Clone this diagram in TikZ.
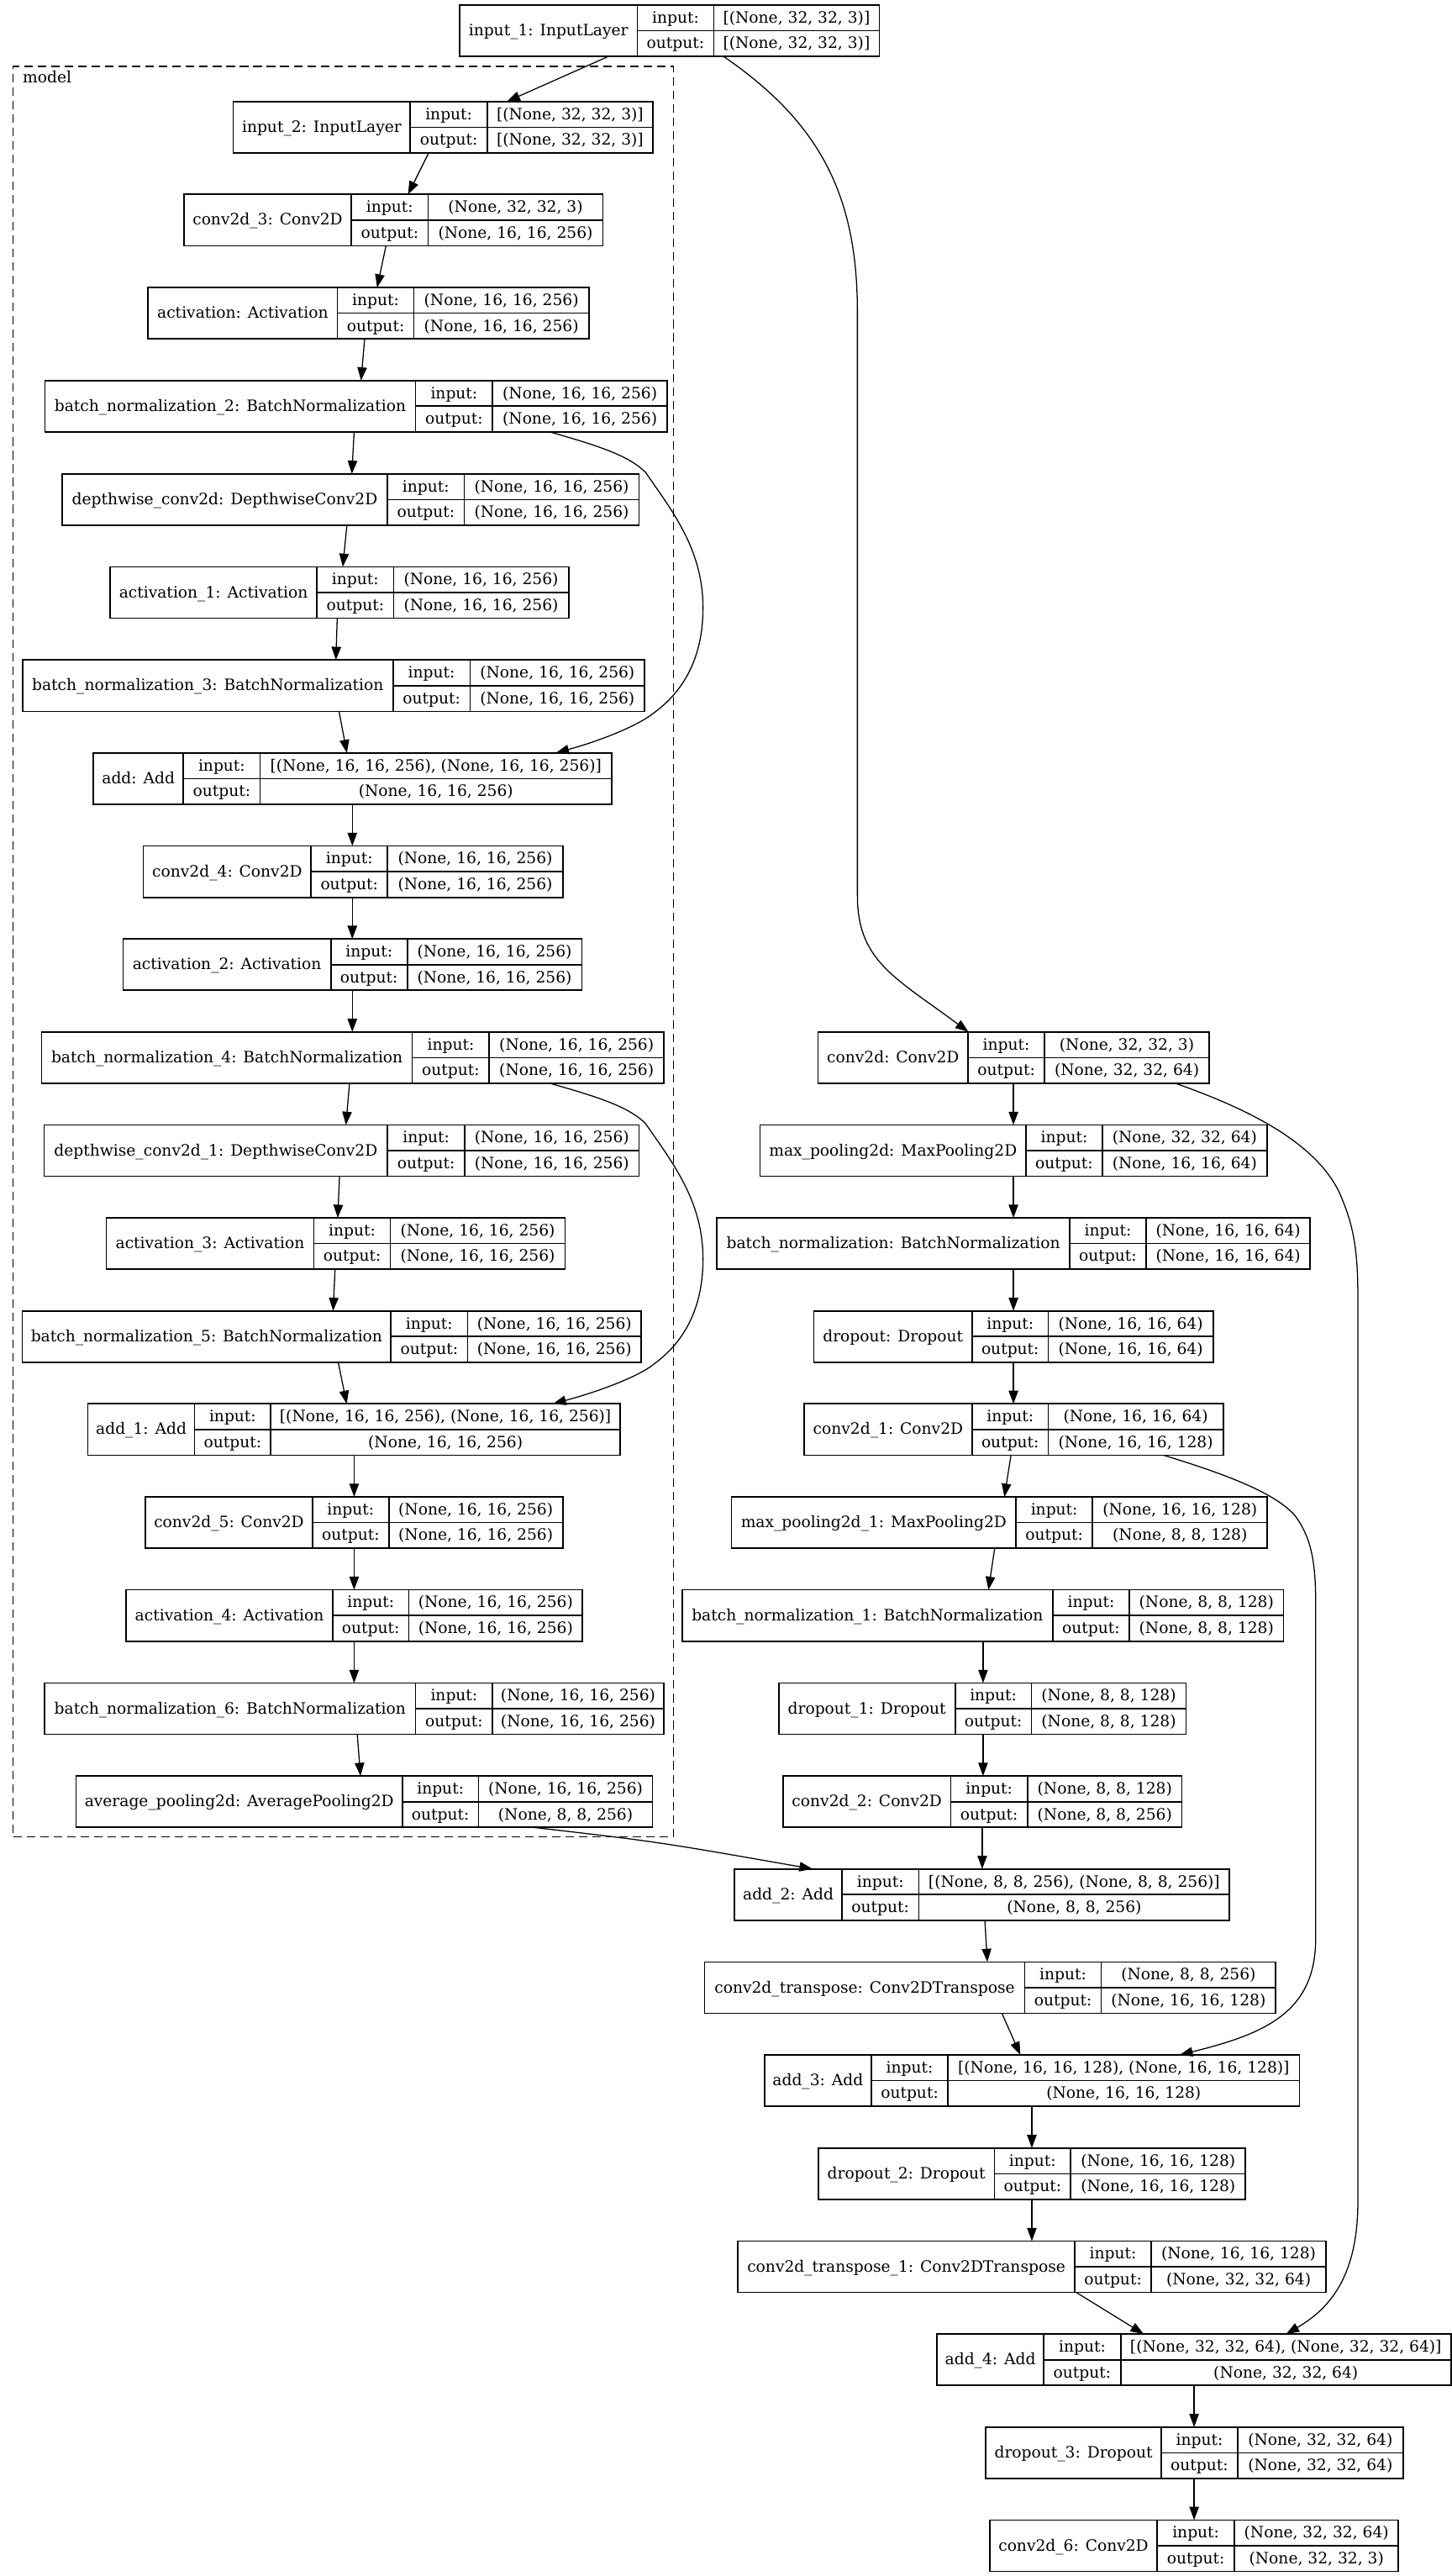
\documentclass[tikz,border=0pt]{standalone}
\usepackage{fontspec}
\newfontfamily\dv{DejaVu Serif}
\usetikzlibrary{fit,arrows.meta}
\def\bh{31.3}
\def\bo{3.1}
\tikzset{
  box/.style={draw=black, line width=0.85pt, inner sep=0pt, outer sep=0pt},
  boxline/.style={draw=black, line width=0.85pt},
  txt/.style={anchor=base, inner sep=0pt, font=\dv\fontsize{9.55}{11}\selectfont},
  conn/.style={draw=black, line width=0.65pt, -{Triangle[length=8pt,width=5.8pt]}},
  clusterbox/.style={draw=black, line width=0.8pt, dash pattern=on 5.2pt off 3pt},
}
\newcommand\layer[9]{%
  \node[box, fit={(#3,#2) (#6,{#2+\bh})}] (#1) {};
  \draw[boxline] (#4,#2) -- (#4,{#2+\bh}) (#5,#2) -- (#5,{#2+\bh}) (#4,{#2+\bh/2}) -- (#6,{#2+\bh/2});
  \node[txt] (#1-l) at ({(#3+#4)/2},{#2+\bh/2+\bo}) {#7};
  \node[txt] (#1-pi) at ({(#4+#5)/2},{#2+\bh/4+\bo}) {input:};
  \node[txt] (#1-po) at ({(#4+#5)/2},{#2+3*\bh/4+\bo}) {output:};
  \node[txt] (#1-vi) at ({(#5+#6)/2},{#2+\bh/4+\bo}) {#8};
  \node[txt] (#1-vo) at ({(#5+#6)/2},{#2+3*\bh/4+\bo}) {#9};
}
\begin{document}
\begin{tikzpicture}[x=1pt,y=-1pt]
\useasboundingbox (0,0) rectangle (884,1568);
\fill[white] (0,0) rectangle (884,1568);
% cluster
\node[clusterbox, inner sep=0pt, outer sep=0pt, fit={(8,40.4) (410,1118)}] (model) {};
\node[txt, anchor=base west] (modellbl) at (13.7,50.5) {model};
% left column
\layer{in1}{3}{279.8}{388}{434.6}{535.3}{input\_1: InputLayer}{[(None, 32, 32, 3)]}{[(None, 32, 32, 3)]}
\layer{in2}{61.8}{142}{249.8}{296.7}{397.4}{input\_2: InputLayer}{[(None, 32, 32, 3)]}{[(None, 32, 32, 3)]}
\layer{c3}{118.3}{111.9}{214}{260.6}{367.1}{conv2d\_3: Conv2D}{(None, 32, 32, 3)}{(None, 16, 16, 256)}
\layer{act}{175}{90.2}{205.4}{252}{358.5}{activation: Activation}{(None, 16, 16, 256)}{(None, 16, 16, 256)}
\layer{bn2}{231.6}{27.3}{253}{299.9}{406.2}{batch\_normalization\_2: BatchNormalization}{(None, 16, 16, 256)}{(None, 16, 16, 256)}
\layer{dw}{288.4}{37.7}{236}{282.6}{389.1}{depthwise\_conv2d: DepthwiseConv2D}{(None, 16, 16, 256)}{(None, 16, 16, 256)}
\layer{act1}{345}{67}{193}{239.6}{346.2}{activation\_1: Activation}{(None, 16, 16, 256)}{(None, 16, 16, 256)}
\layer{bn3}{401.7}{13.7}{239.3}{286.2}{392.5}{batch\_normalization\_3: BatchNormalization}{(None, 16, 16, 256)}{(None, 16, 16, 256)}
\layer{add}{458.3}{56.9}{111.6}{158.4}{372.4}{add: Add}{[(None, 16, 16, 256), (None, 16, 16, 256)]}{(None, 16, 16, 256)}
\layer{c4}{514.9}{87.3}{189.4}{236}{342.6}{conv2d\_4: Conv2D}{(None, 16, 16, 256)}{(None, 16, 16, 256)}
\layer{act2}{571.5}{75}{201.4}{248}{354.2}{activation\_2: Activation}{(None, 16, 16, 256)}{(None, 16, 16, 256)}
\layer{bn4}{628.1}{25.4}{251}{297.9}{404.2}{batch\_normalization\_4: BatchNormalization}{(None, 16, 16, 256)}{(None, 16, 16, 256)}
\layer{dw1}{684.7}{26.8}{236}{282.9}{389.1}{depthwise\_conv2d\_1: DepthwiseConv2D}{(None, 16, 16, 256)}{(None, 16, 16, 256)}
\layer{act3}{741.3}{64.7}{191.1}{237.7}{344}{activation\_3: Activation}{(None, 16, 16, 256)}{(None, 16, 16, 256)}
\layer{bn5}{797.9}{13.6}{238}{284.7}{390.4}{batch\_normalization\_5: BatchNormalization}{(None, 16, 16, 256)}{(None, 16, 16, 256)}
\layer{add1}{854.5}{53.5}{118.5}{164.8}{377.6}{add\_1: Add}{[(None, 16, 16, 256), (None, 16, 16, 256)]}{(None, 16, 16, 256)}
\layer{c5}{911.1}{88.5}{190.3}{236.7}{342.6}{conv2d\_5: Conv2D}{(None, 16, 16, 256)}{(None, 16, 16, 256)}
\layer{act4}{967.7}{76.9}{202.5}{248.9}{354.6}{activation\_4: Activation}{(None, 16, 16, 256)}{(None, 16, 16, 256)}
\layer{bn6}{1024.4}{27.2}{253}{299.9}{404}{batch\_normalization\_6: BatchNormalization}{(None, 16, 16, 256)}{(None, 16, 16, 256)}
\layer{avg}{1081}{46.3}{245}{291.3}{397.3}{average\_pooling2d: AveragePooling2D}{(None, 16, 16, 256)}{(None, 8, 8, 256)}
% right column
\layer{c0}{628.1}{498.1}{589.3}{636}{736.1}{conv2d: Conv2D}{(None, 32, 32, 3)}{(None, 32, 32, 64)}
\layer{mp}{684.7}{462.7}{624.7}{671.1}{771.4}{max\_pooling2d: MaxPooling2D}{(None, 32, 32, 64)}{(None, 16, 16, 64)}
\layer{bn}{741.3}{436.5}{651.2}{697.8}{797.7}{batch\_normalization: BatchNormalization}{(None, 16, 16, 64)}{(None, 16, 16, 64)}
\layer{dr}{797.9}{495.5}{591.9}{638.2}{738.6}{dropout: Dropout}{(None, 16, 16, 64)}{(None, 16, 16, 64)}
\layer{c1}{854.5}{489.5}{591.9}{638.2}{744.7}{conv2d\_1: Conv2D}{(None, 16, 16, 64)}{(None, 16, 16, 128)}
\layer{mp1}{911.1}{445.4}{618.5}{665.2}{771.6}{max\_pooling2d\_1: MaxPooling2D}{(None, 16, 16, 128)}{(None, 8, 8, 128)}
\layer{bn1}{967.7}{415.3}{641}{687.5}{781.5}{batch\_normalization\_1: BatchNormalization}{(None, 8, 8, 128)}{(None, 8, 8, 128)}
\layer{dr1}{1024.4}{474.1}{581.5}{628}{722.1}{dropout\_1: Dropout}{(None, 8, 8, 128)}{(None, 8, 8, 128)}
\layer{c2}{1081}{476.8}{578.8}{625.6}{719.6}{conv2d\_2: Conv2D}{(None, 8, 8, 128)}{(None, 8, 8, 256)}
\layer{add2}{1137.6}{447.2}{512.6}{559.4}{748.6}{add\_2: Add}{[(None, 8, 8, 256), (None, 8, 8, 256)]}{(None, 8, 8, 256)}
\layer{ct}{1194.2}{429}{623.9}{670.5}{776.6}{conv2d\_transpose: Conv2DTranspose}{(None, 8, 8, 256)}{(None, 16, 16, 128)}
\layer{add3}{1250.8}{465.4}{530.5}{577.1}{791.2}{add\_3: Add}{[(None, 16, 16, 128), (None, 16, 16, 128)]}{(None, 16, 16, 128)}
\layer{dr2}{1307.5}{498.3}{605.4}{651.9}{758.3}{dropout\_2: Dropout}{(None, 16, 16, 128)}{(None, 16, 16, 128)}
\layer{ct1}{1364.1}{449.3}{654.3}{700.9}{807.3}{conv2d\_transpose\_1: Conv2DTranspose}{(None, 16, 16, 128)}{(None, 32, 32, 64)}
\layer{add4}{1420.7}{570.4}{635.5}{682.3}{883.4}{add\_4: Add}{[(None, 32, 32, 64), (None, 32, 32, 64)]}{(None, 32, 32, 64)}
\layer{dr3}{1477.3}{600.2}{707}{753.5}{854.2}{dropout\_3: Dropout}{(None, 32, 32, 64)}{(None, 32, 32, 64)}
\layer{c6}{1533.9}{602.6}{704.5}{751.6}{851.4}{conv2d\_6: Conv2D}{(None, 32, 32, 64)}{(None, 32, 32, 3)}
% connectors, left
\draw[conn] (370.5,0 |- in1.south) -- (308.6,0 |- in2.north);
\draw[conn] (440.4,0 |- in1.south) .. controls (500,75) and (522,120) .. (522,190) -- (522,545) .. controls (522,585) and (545,595) .. (589.6,0 |- c0.north);
\draw[conn] (261,0 |- in2.south) -- (248.4,0 |- c3.north);
\draw[conn] (235,0 |- c3.south) -- (229.6,0 |- act.north);
\draw[conn] (222,0 |- act.south) -- (219.8,0 |- bn2.north);
\draw[conn] (215.6,0 |- bn2.south) -- (214.2,0 |- dw.north);
\draw[conn] (334.7,0 |- bn2.south) .. controls (365,271.5) and (383,277.5) .. (393,287.5) .. controls (410,312) and (428,335) .. (428,370) .. controls (428,395) and (420,418) .. (398,434) .. controls (388,442) and (365,451) .. (338.4,0 |- add.north);
\draw[conn] (211.2,0 |- dw.south) -- (208.7,0 |- act1.north);
\draw[conn] (205.3,0 |- act1.south) -- (204.5,0 |- bn3.north);
\draw[conn] (206.4,0 |- bn3.south) -- (211.2,0 |- add.north);
\draw[conn] (214.5,0 |- add.south) -- (214.5,0 |- c4.north);
\draw[conn] (214.5,0 |- c4.south) -- (214.5,0 |- act2.north);
\draw[conn] (214.5,0 |- act2.south) -- (214.5,0 |- bn4.north);
\draw[conn] (212.8,0 |- bn4.south) -- (210.6,0 |- dw1.north);
\draw[conn] (334.7,0 |- bn4.south) .. controls (365,667.9) and (383,673.9) .. (393,683.9) .. controls (410,708.4) and (428,731.4) .. (428,766.4) .. controls (428,791.4) and (420,814.4) .. (398,830.4) .. controls (388,838.4) and (363,847.4) .. (336.6,0 |- add1.north);
\draw[conn] (206.7,0 |- dw1.south) -- (205.6,0 |- act3.north);
\draw[conn] (204,0 |- act3.south) -- (202.8,0 |- bn5.north);
\draw[conn] (205.9,0 |- bn5.south) -- (211.1,0 |- add1.north);
\draw[conn] (215.6,0 |- add1.south) -- (215.6,0 |- c5.north);
\draw[conn] (215.6,0 |- c5.south) -- (215.6,0 |- act4.north);
\draw[conn] (215.6,0 |- act4.south) -- (215.6,0 |- bn6.north);
\draw[conn] (217.5,0 |- bn6.south) -- (219.5,0 |- avg.north);
\draw[conn] (324.6,0 |- avg.south) .. controls (400,1121) .. (494.7,0 |- add2.north);
% connectors, right
\draw[conn] (617,0 |- c0.south) -- (617,0 |- mp.north);
\draw[conn] (617,0 |- mp.south) -- (617,0 |- bn.north);
\draw[conn] (617,0 |- bn.south) -- (617,0 |- dr.north);
\draw[conn] (617,0 |- dr.south) -- (617,0 |- c1.north);
\draw[conn] (715.6,0 |- c0.south) .. controls (760,675) and (800,695) .. (815,725) .. controls (824,745) and (826.7,760) .. (826.7,790) -- (826.7,1340) .. controls (826.7,1385) and (810,1405) .. (783,0 |- add4.north);
\draw[conn] (615.5,0 |- c1.south) -- (611.5,0 |- mp1.north);
\draw[conn] (708.5,0 |- c1.south) .. controls (745,897) and (775,908) .. (788,922) .. controls (798,935) and (801,950) .. (801,975) -- (801,1180) .. controls (801,1225) and (770,1238) .. (718.2,0 |- add3.north);
\draw[conn] (605.6,0 |- mp1.south) -- (601.8,0 |- bn1.north);
\draw[conn] (598.5,0 |- bn1.south) -- (598.5,0 |- dr1.north);
\draw[conn] (598.5,0 |- dr1.south) -- (598.5,0 |- c2.north);
\draw[conn] (598,0 |- c2.south) -- (598,0 |- add2.north);
\draw[conn] (599.6,0 |- add2.south) -- (601.1,0 |- ct.north);
\draw[conn] (610,0 |- ct.south) -- (621.2,0 |- add3.north);
\draw[conn] (628.2,0 |- add3.south) -- (628.2,0 |- dr2.north);
\draw[conn] (628.2,0 |- dr2.south) -- (628.2,0 |- ct1.north);
\draw[conn] (655.3,0 |- ct1.south) -- (696.3,0 |- add4.north);
\draw[conn] (727,0 |- add4.south) -- (727,0 |- dr3.north);
\draw[conn] (727,0 |- dr3.south) -- (727,0 |- c6.north);
\end{tikzpicture}
\end{document}
